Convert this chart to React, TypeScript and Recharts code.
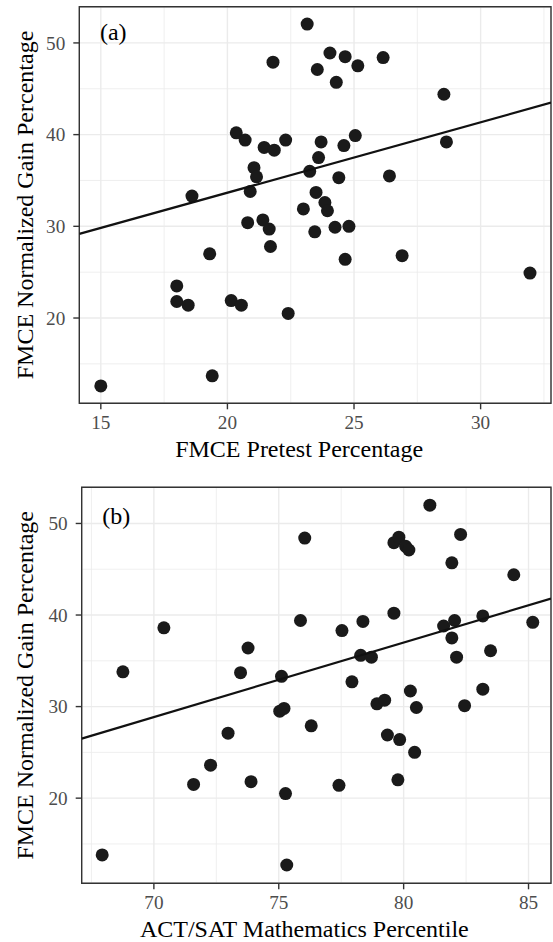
import React from 'react';
import { ScatterChart, Scatter, XAxis, YAxis, CartesianGrid, ReferenceArea, ReferenceDot, Label } from 'recharts';

// Panel (a): FMCE pretest vs normalized gain
const pretestA = [15.0, 18.0, 18.0, 18.45, 18.6, 19.3, 19.4, 20.15, 20.35, 20.55, 20.7, 20.8, 20.9, 21.05, 21.15, 21.4, 21.45, 21.65, 21.7, 21.8, 21.85, 22.3, 22.4, 23.0, 23.15, 23.25, 23.5, 23.45, 23.55, 23.6, 23.7, 23.85, 23.95, 24.05, 24.25, 24.3, 24.4, 24.6, 24.65, 24.65, 24.8, 25.05, 25.15, 26.15, 26.4, 26.9, 28.55, 28.65, 31.95];
const gainA = [12.6, 23.5, 21.8, 21.4, 33.3, 27.0, 13.7, 21.9, 40.2, 21.4, 39.4, 30.4, 33.8, 36.4, 35.4, 30.7, 38.6, 29.7, 27.8, 47.9, 38.3, 39.4, 20.5, 31.9, 52.05, 36.0, 33.7, 29.4, 47.1, 37.5, 39.2, 32.6, 31.7, 48.9, 29.9, 45.7, 35.3, 38.8, 48.5, 26.4, 30.0, 39.9, 47.5, 48.4, 35.5, 26.8, 44.4, 39.2, 24.9];
const fitAX = [14.15, 32.78];
const fitAY = [29.17, 43.49];

// Panel (b): ACT/SAT math percentile vs normalized gain
const mathB = [67.93, 68.76, 70.4, 71.59, 72.27, 72.97, 73.47, 73.77, 73.89, 75.04, 75.21, 75.11, 75.27, 75.32, 75.87, 76.04, 76.3, 77.41, 77.53, 77.93, 78.28, 78.37, 78.71, 78.93, 79.24, 79.35, 79.61, 79.61, 79.77, 79.81, 79.84, 80.08, 80.21, 80.27, 80.44, 80.51, 81.05, 81.6, 81.93, 81.93, 82.04, 82.12, 82.28, 82.44, 83.17, 83.17, 83.48, 84.41, 85.17];
const gainB = [13.8, 33.8, 38.6, 21.5, 23.6, 27.1, 33.7, 36.4, 21.8, 29.5, 29.8, 33.3, 20.5, 12.7, 39.4, 48.4, 27.9, 21.4, 38.3, 32.7, 35.6, 39.3, 35.4, 30.3, 30.7, 26.9, 47.9, 40.2, 22.0, 48.5, 26.4, 47.5, 47.1, 31.7, 25.0, 29.9, 52.0, 38.8, 45.7, 37.5, 39.4, 35.4, 48.8, 30.1, 39.9, 31.9, 36.1, 44.4, 39.2];
const fitBX = [67.11, 85.9];
const fitBY = [26.5, 41.8];

// Axes
const ticksAX = [15, 20, 25, 30];
const minorAX = [17.5, 22.5, 27.5, 32.5];
const ticksBX = [70, 75, 80, 85];
const minorBX = [67.5, 72.5, 77.5, 82.5];
const ticksY = [20, 30, 40, 50];
const minorY = [15, 25, 35, 45];
const domainAX = [14.15, 32.78];
const domainBX = [67.11, 85.9];
const domainY = [10.7, 53.95];

const yTitle = 'FMCE Normalized Gain Percentage';
const xTitleA = 'FMCE Pretest Percentage';
const xTitleB = 'ACT/SAT Mathematics Percentile';
const tagA = { x: 15.49, y: 51.2, text: '(a)' };
const tagB = { x: 68.49, y: 50.9, text: '(b)' };

const FONT = "'Liberation Serif', 'Times New Roman', serif";
const zip = (xs: number[], ys: number[]) => xs.map((x, i) => ({ x, y: ys[i] }));

const Dot = (p: any) => <circle cx={p.cx} cy={p.cy} r={6.5} fill="#1a1a1a" />;
const NoDot = () => <g />;

function Panel(props: any) {
  const { height, top, yAxisW, xAxisH, xs, ys, fx, fy, domainX, ticksX, minorX, xTitle, xShift, tag } = props;
  const data = zip(xs, ys);
  const fit = zip(fx, fy);
  return (
    <ScatterChart width={553} height={height} margin={{ top, right: 2, bottom: 0, left: 0 }}>
      <CartesianGrid stroke="#ebebeb" strokeWidth={0.8} xAxisId="minor" yAxisId="minor" />
      <CartesianGrid stroke="#ebebeb" strokeWidth={1.4} />
      <XAxis xAxisId="minor" type="number" dataKey="x" domain={domainX} ticks={minorX} allowDataOverflow hide height={xAxisH} />
      <YAxis yAxisId="minor" type="number" dataKey="y" domain={domainY} ticks={minorY} allowDataOverflow hide width={yAxisW} />
      <XAxis
        type="number"
        dataKey="x"
        domain={domainX}
        ticks={ticksX}
        allowDataOverflow
        height={xAxisH}
        axisLine={false}
        tickSize={6}
        tickMargin={6.5}
        tickLine={{ stroke: '#333333', strokeWidth: 1.4 }}
        tick={{ fill: '#4d4d4d', fontSize: 19.2, fontFamily: FONT }}
        label={
          <Label
            content={(lp: any) => {
              const vb = lp.viewBox || {};
              return (
                <text x={vb.x + vb.width / 2 + xShift} y={vb.y + 54} textAnchor="middle" fill="#000" fontSize={24} fontFamily={FONT}>
                  {xTitle}
                </text>
              );
            }}
          />
        }
      />
      <YAxis
        type="number"
        dataKey="y"
        domain={domainY}
        ticks={ticksY}
        allowDataOverflow
        width={yAxisW}
        axisLine={false}
        tickSize={6}
        tickMargin={8}
        tickLine={{ stroke: '#333333', strokeWidth: 1.4 }}
        tick={{ fill: '#4d4d4d', fontSize: 19.2, fontFamily: FONT }}
        label={
          <Label
            content={(lp: any) => {
              const vb = lp.viewBox || {};
              const cy = vb.y + vb.height / 2;
              const bx = 33;
              return (
                <text x={bx} y={cy} transform={`rotate(-90, ${bx}, ${cy})`} textAnchor="middle" fill="#000" fontSize={24} fontFamily={FONT}>
                  {yTitle}
                </text>
              );
            }}
          />
        }
      />
      <Scatter data={data} shape={Dot} isAnimationActive={false} />
      <Scatter data={fit} shape={NoDot} line={{ stroke: '#111111', strokeWidth: 2.2 }} isAnimationActive={false} />
      <ReferenceArea
        x1={domainX[0]}
        x2={domainX[1]}
        y1={domainY[0]}
        y2={domainY[1]}
        fill="none"
        stroke="#333333"
        strokeWidth={1.4}
        ifOverflow="visible"
      />
      <ReferenceDot
        x={tag.x}
        y={tag.y}
        r={0}
        fill="none"
        stroke="none"
        ifOverflow="visible"
        label={{ value: tag.text, position: 'center', fill: '#000', fontSize: 24, fontFamily: FONT }}
      />
    </ScatterChart>
  );
}

export default function App() {
  return (
    <div style={{ position: 'absolute', left: 0, top: 0, width: 553, height: 942, background: '#fff' }}>
      <Panel height={470} top={6.7} yAxisW={79.3} xAxisH={66.7} xs={pretestA} ys={gainA} fx={fitAX} fy={fitAY}
        domainX={domainAX} ticksX={ticksAX} minorX={minorAX} xTitle={xTitleA} xShift={-16} tag={tagA} />
      <Panel height={472} top={17.3} yAxisW={81.7} xAxisH={58.7} xs={mathB} ys={gainB} fx={fitBX} fy={fitBY}
        domainX={domainBX} ticksX={ticksBX} minorX={minorBX} xTitle={xTitleB} xShift={-12} tag={tagB} />
    </div>
  );
}
